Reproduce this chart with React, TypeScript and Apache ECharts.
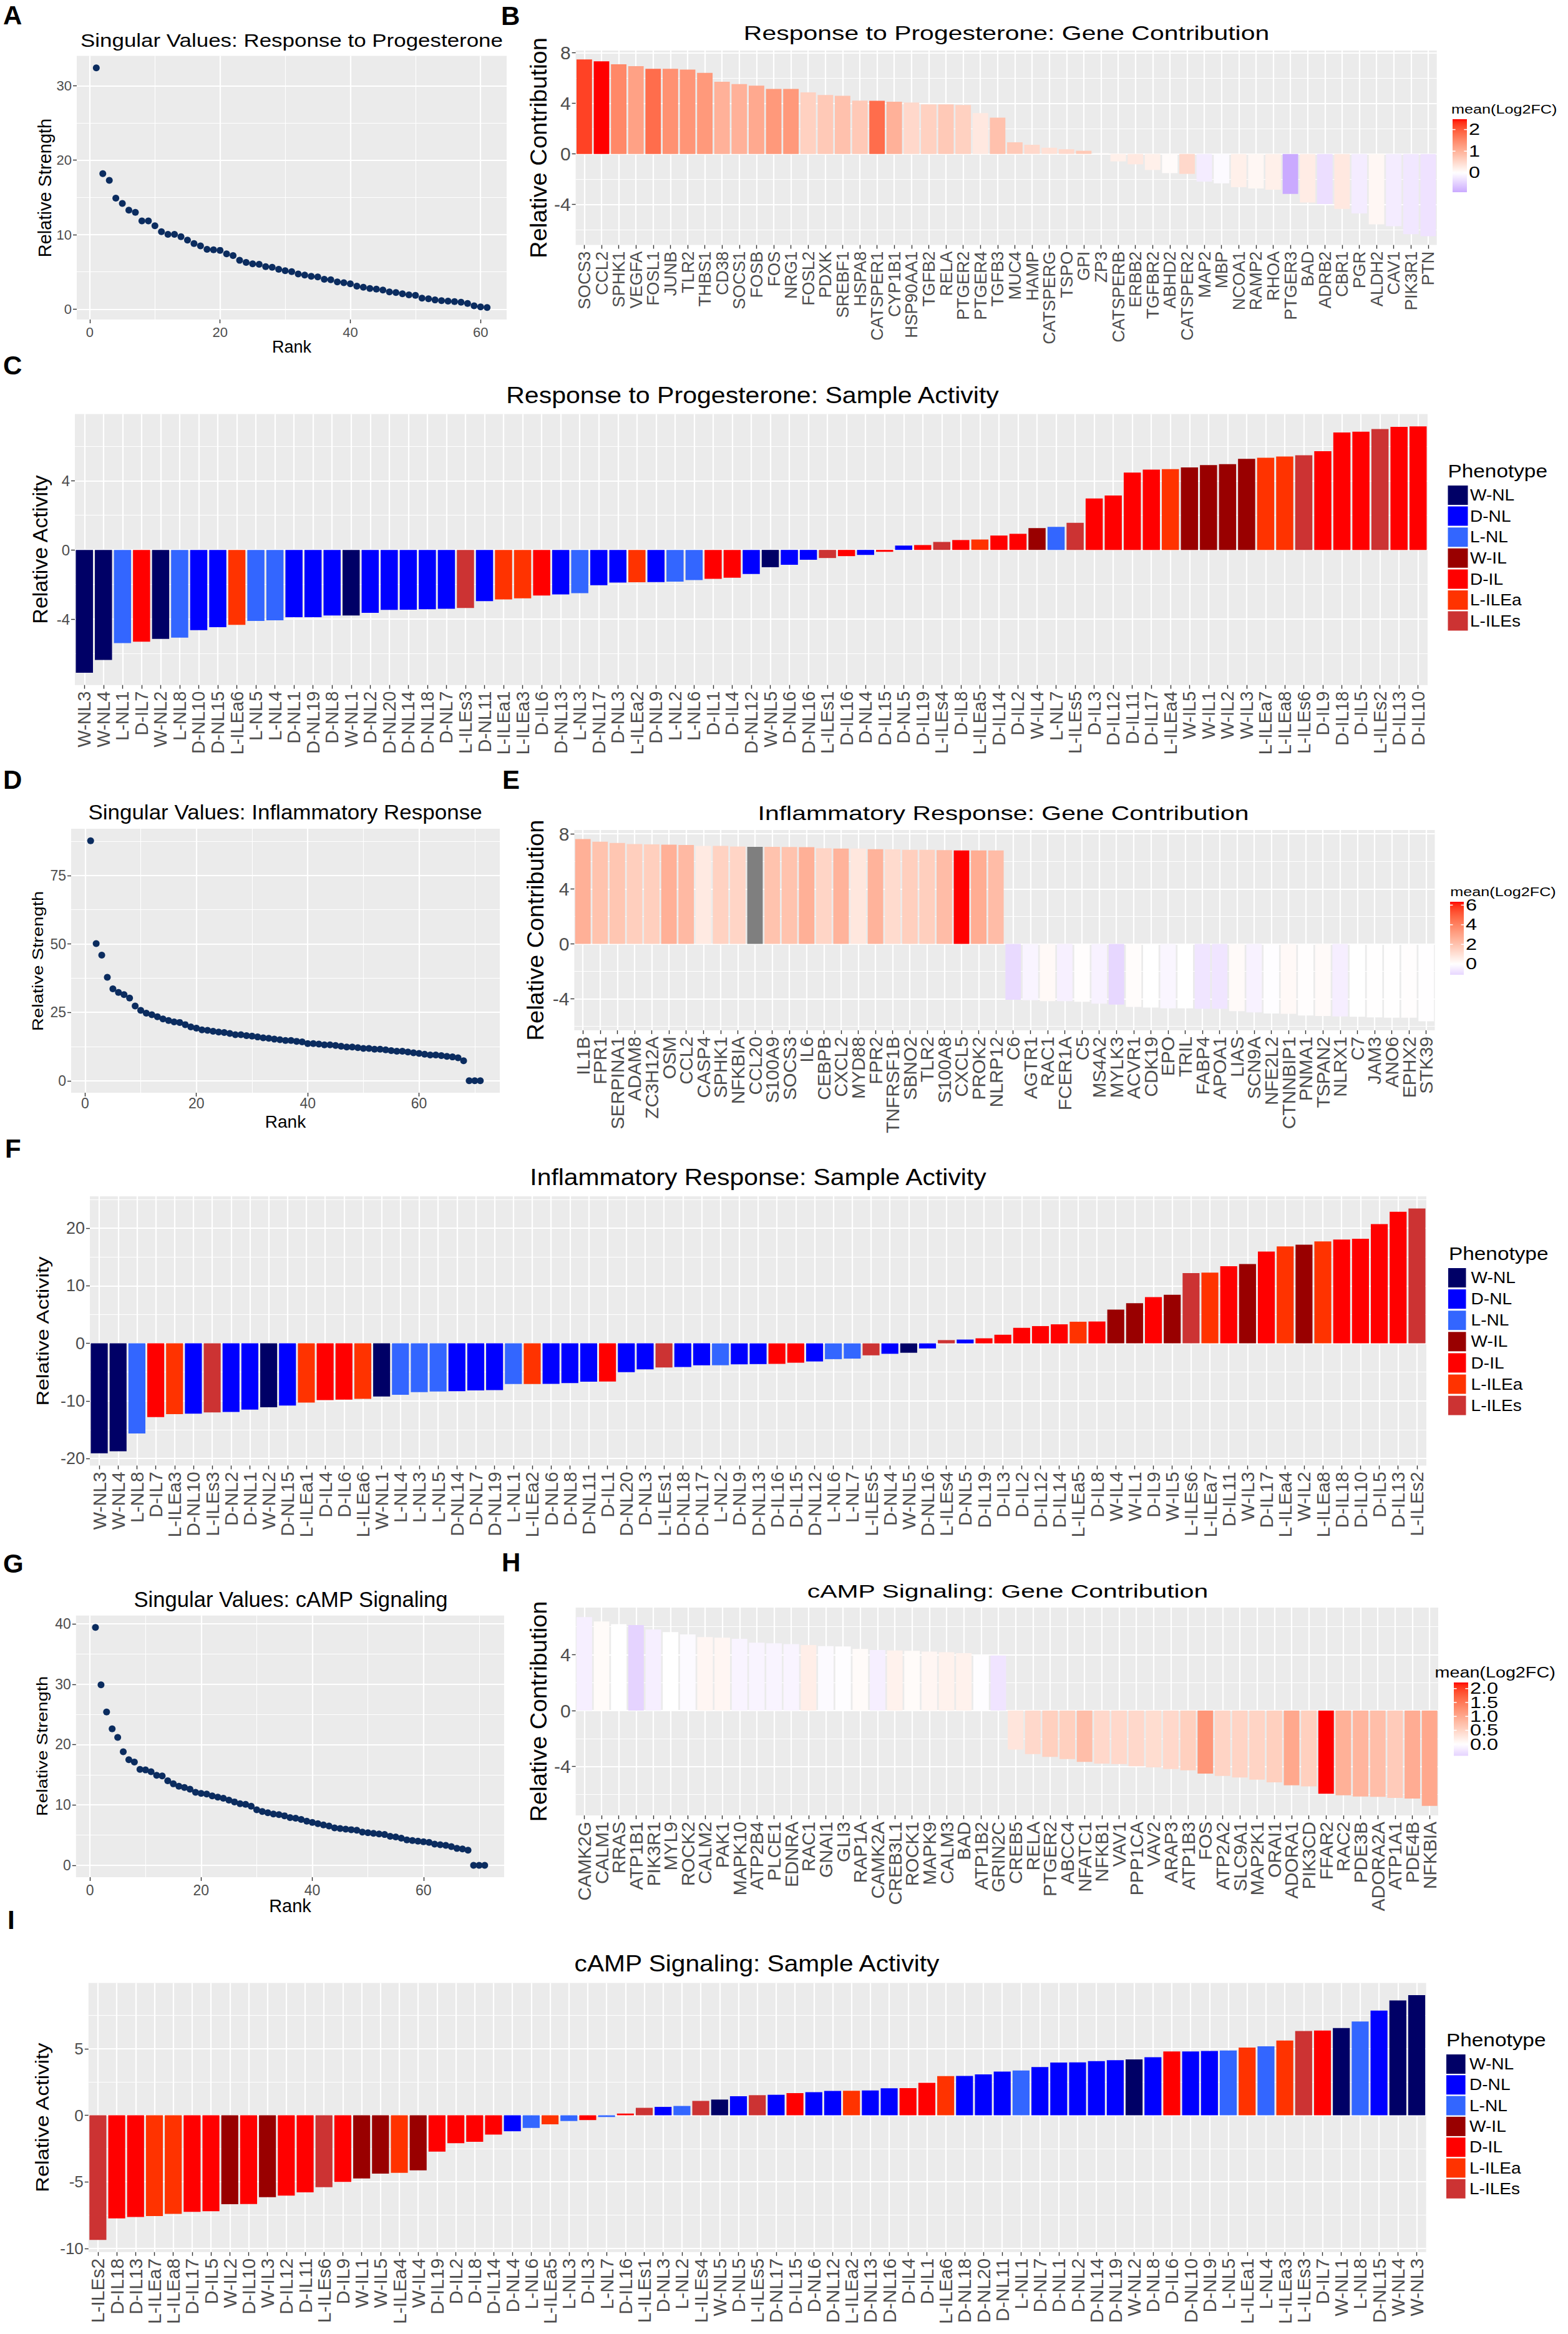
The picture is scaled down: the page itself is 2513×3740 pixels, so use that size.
import React, { useEffect, useRef } from "react";
import * as echarts from "echarts";

const FONT = '"Liberation Sans", Arial, Helvetica, sans-serif';

// ---------------- data ----------------
const SV_PROGESTERONE = [32.4, 18.2, 17.3, 14.9, 14.2, 13.3, 13.0, 11.85, 11.85, 11.2, 10.4, 10.05, 10.05, 9.74, 9.28, 8.82, 8.5, 8.04, 7.98, 7.9, 7.42, 7.2, 6.56, 6.28, 6.09, 6.03, 5.72, 5.63, 5.35, 5.17, 5.04, 4.73, 4.58, 4.42, 4.33, 4.02, 3.96, 3.65, 3.56, 3.4, 3.09, 2.94, 2.78, 2.69, 2.57, 2.32, 2.23, 2.07, 1.92, 1.86, 1.48, 1.39, 1.24, 1.14, 1.08, 1.02, 0.93, 0.77, 0.46, 0.31, 0.22];
const SV_INFLAMMATORY = [87.7, 50.1, 45.9, 37.8, 33.6, 32.3, 31.5, 30.2, 27.3, 25.7, 24.7, 24.1, 23.4, 22.6, 22.0, 21.5, 21.3, 20.5, 19.7, 19.2, 18.6, 18.4, 18.1, 17.8, 17.6, 17.3, 16.8, 16.8, 16.5, 16.3, 16.0, 15.7, 15.5, 15.2, 15.0, 14.7, 14.7, 14.4, 14.2, 13.6, 13.6, 13.4, 13.1, 13.1, 12.9, 12.6, 12.3, 12.3, 12.1, 11.8, 11.8, 11.5, 11.5, 11.3, 11.0, 10.8, 10.8, 10.5, 10.2, 10.0, 9.7, 9.4, 9.4, 9.2, 8.9, 8.7, 8.4, 7.3, 0, 0, 0];
const SV_CAMP = [39.4, 29.9, 25.4, 22.6, 21.2, 18.8, 17.5, 17.1, 15.9, 15.8, 15.5, 14.9, 14.8, 14.0, 13.5, 13.1, 12.9, 12.6, 12.1, 11.9, 11.8, 11.5, 11.3, 11.1, 10.8, 10.5, 10.2, 10.1, 9.8, 9.2, 8.9, 8.7, 8.5, 8.4, 8.2, 7.9, 7.8, 7.6, 7.3, 7.1, 6.9, 6.7, 6.5, 6.2, 6.1, 6.0, 5.9, 5.8, 5.5, 5.4, 5.3, 5.2, 5.1, 4.8, 4.7, 4.5, 4.2, 4.1, 4.0, 3.9, 3.8, 3.5, 3.4, 3.3, 3.1, 2.8, 2.7, 2.5, 0, 0, 0];

const GENES_PROG = ["SOCS3", "CCL2", "SPHK1", "VEGFA", "FOSL1", "JUNB", "TLR2", "THBS1", "CD38", "SOCS1", "FOSB", "FOS", "NRG1", "FOSL2", "PDXK", "SREBF1", "HSPA8", "CATSPER1", "CYP1B1", "HSP90AA1", "TGFB2", "RELA", "PTGER2", "PTGER4", "TGFB3", "MUC4", "HAMP", "CATSPERG", "TSPO", "GPI", "ZP3", "CATSPERB", "ERBB2", "TGFBR2", "ABHD2", "CATSPER2", "MAP2", "MBP", "NCOA1", "RAMP2", "RHOA", "PTGER3", "BAD", "ADRB2", "CBR1", "PGR", "ALDH2", "CAV1", "PIK3R1", "PTN"];
const CONTRIB_PROG = [7.47, 7.32, 7.08, 6.93, 6.73, 6.73, 6.67, 6.4, 5.7, 5.52, 5.39, 5.13, 5.13, 4.86, 4.66, 4.59, 4.21, 4.2, 4.12, 4.06, 3.92, 3.92, 3.86, 3.22, 2.87, 0.92, 0.72, 0.49, 0.37, 0.25, 0.06, -0.59, -0.82, -1.27, -1.52, -1.58, -2.19, -2.32, -2.63, -2.73, -2.83, -3.16, -3.84, -3.96, -4.35, -4.7, -5.56, -5.72, -6.34, -6.5];
const FC_PROG = [2.2, 2.48, 1.5, 1.2, 1.8, 1.4, 1.35, 1.3, 1.0, 1.0, 1.1, 1.3, 1.3, 0.6, 0.7, 0.8, 0.7, 1.8, 1.0, 0.5, 0.6, 0.7, 0.6, 0.3, 0.8, 0.7, 0.5, 0.4, 0.5, 0.7, 0.05, 0.2, 0.3, 0.2, 0.05, 0.5, -0.2, -0.05, 0.2, 0.1, 0.2, -0.9, 0.25, -0.35, 0.3, -0.2, 0.1, -0.2, -0.25, -0.3];

const GENES_INFL = ["IL1B", "FPR1", "SERPINA1", "ADAM8", "ZC3H12A", "OSM", "CCL2", "CASP4", "SPHK1", "NFKBIA", "CCL20", "S100A9", "SOCS3", "IL6", "CEBPB", "CXCL2", "MYD88", "FPR2", "TNFRSF1B", "SBNO2", "TLR2", "S100A8", "CXCL5", "PROK2", "NLRP12", "C6", "AGTR1", "RAC1", "FCER1A", "C5", "MS4A2", "MYLK3", "ACVR1", "CDK19", "EPO", "TRIL", "FABP4", "APOA1", "LIAS", "SCN9A", "NFE2L2", "CTNNBIP1", "PNMA1", "TSPAN2", "NLRX1", "C7", "JAM3", "ANO6", "EPHX2", "STK39"];
const CONTRIB_INFL = [7.62, 7.43, 7.34, 7.26, 7.24, 7.22, 7.19, 7.13, 7.12, 7.08, 7.06, 7.06, 7.05, 7.03, 6.96, 6.93, 6.93, 6.89, 6.87, 6.84, 6.84, 6.82, 6.8, 6.79, 6.79, -4.07, -4.1, -4.17, -4.17, -4.22, -4.35, -4.42, -4.59, -4.64, -4.69, -4.69, -4.73, -4.73, -4.9, -4.99, -5.07, -5.09, -5.21, -5.25, -5.28, -5.3, -5.35, -5.37, -5.37, -5.63];
const FC_INFL: (number | null)[] = [2.6, 2.0, 1.9, 1.6, 1.6, 2.6, 2.3, 0.7, 1.5, 1.4, null, 2.0, 2.0, 2.6, 1.4, 2.5, 0.8, 2.5, 1.2, 1.6, 1.6, 2.2, 6.34, 2.7, 2.2, -1.0, -0.3, 0.2, -0.4, 0.05, -0.35, -1.09, 0.1, 0, -0.25, 0, -0.7, -0.7, 0.15, -0.35, -0.05, 0.2, 0.05, 0.15, -0.45, 0, 0.02, 0.02, 0.05, -0.02];

const GENES_CAMP = ["CAMK2G", "CALM1", "RRAS", "ATP1B1", "PIK3R1", "MYL9", "ROCK2", "CALM2", "PAK1", "MAPK10", "ATP2B4", "PLCE1", "EDNRA", "RAC1", "GNAI1", "GLI3", "RAP1A", "CAMK2A", "CREB3L1", "ROCK1", "MAPK9", "CALM3", "BAD", "ATP1B2", "GRIN2C", "CREB5", "RELA", "PTGER2", "ABCC4", "NFATC1", "NFKB1", "VAV1", "PPP1CA", "VAV2", "ARAP3", "ATP1B3", "FOS", "ATP2A2", "SLC9A1", "MAP2K1", "ORAI1", "ADORA1", "PIK3CD", "FFAR2", "RAC2", "PDE3B", "ADORA2A", "ATP1A1", "PDE4B", "NFKBIA"];
const CONTRIB_CAMP = [6.69, 6.37, 6.18, 6.12, 5.8, 5.61, 5.45, 5.26, 5.21, 5.13, 4.86, 4.81, 4.75, 4.69, 4.61, 4.59, 4.41, 4.33, 4.3, 4.27, 4.22, 4.18, 4.11, 3.98, 3.94, -2.79, -3.11, -3.31, -3.47, -3.67, -3.79, -3.82, -3.98, -4.06, -4.18, -4.27, -4.51, -4.67, -4.78, -4.94, -5.13, -5.34, -5.42, -5.94, -6.06, -6.14, -6.17, -6.25, -6.29, -6.82];
const FC_CAMP = [-0.15, 0.05, 0, -0.42, -0.15, 0, -0.05, 0.1, 0.1, -0.1, -0.1, -0.1, -0.1, 0.2, -0.05, -0.02, 0.05, -0.15, 0.15, 0.05, 0.1, 0.15, 0.15, -0.02, -0.25, 0.3, 0.45, 0.55, 0.55, 0.75, 0.45, 0.45, 0.45, 0.4, 0.45, 0.55, 1.2, 0.5, 0.5, 0.5, 0.55, 1.0, 0.55, 2.22, 0.9, 0.85, 0.75, 0.6, 0.95, 1.0];

const SAMPLES_PROG = ["W-NL3", "W-NL4", "L-NL1", "D-IL7", "W-NL2", "L-NL8", "D-NL10", "D-NL15", "L-ILEa6", "L-NL5", "L-NL4", "D-NL1", "D-NL19", "D-NL8", "W-NL1", "D-NL2", "D-NL20", "D-NL14", "D-NL18", "D-NL7", "L-ILEs3", "D-NL11", "L-ILEa1", "L-ILEa3", "D-IL6", "D-NL13", "L-NL3", "D-NL17", "D-NL3", "L-ILEa2", "D-NL9", "L-NL2", "L-NL6", "D-IL1", "D-IL4", "D-NL12", "W-NL5", "D-NL6", "D-NL16", "L-ILEs1", "D-IL16", "D-NL4", "D-IL15", "D-NL5", "D-IL19", "L-ILEs4", "D-IL8", "L-ILEa5", "D-IL14", "D-IL2", "W-IL4", "L-NL7", "L-ILEs5", "D-IL3", "D-IL12", "D-IL11", "D-IL17", "L-ILEa4", "W-IL5", "W-IL1", "W-IL2", "W-IL3", "L-ILEa7", "L-ILEa8", "L-ILEs6", "D-IL9", "D-IL18", "D-IL5", "L-ILEs2", "D-IL13", "D-IL10"];
const ACTIVITY_PROG = [-7.1, -6.36, -5.39, -5.31, -5.14, -5.07, -4.64, -4.47, -4.33, -4.11, -4.07, -3.89, -3.89, -3.79, -3.79, -3.64, -3.47, -3.46, -3.43, -3.4, -3.36, -2.96, -2.86, -2.8, -2.64, -2.57, -2.5, -2.04, -1.89, -1.87, -1.86, -1.83, -1.74, -1.67, -1.61, -1.39, -1.0, -0.86, -0.57, -0.47, -0.36, -0.29, -0.11, 0.25, 0.28, 0.46, 0.57, 0.6, 0.83, 0.93, 1.26, 1.33, 1.57, 2.97, 3.14, 4.47, 4.64, 4.67, 4.77, 4.9, 4.96, 5.26, 5.33, 5.4, 5.47, 5.71, 6.79, 6.83, 6.99, 7.11, 7.14];

const SAMPLES_INFL = ["W-NL3", "W-NL4", "L-NL8", "D-IL7", "L-ILEa3", "D-NL10", "L-ILEs3", "D-NL2", "D-NL1", "W-NL2", "D-NL15", "L-ILEa1", "D-IL4", "D-IL6", "L-ILEa6", "W-NL1", "L-NL4", "L-NL3", "L-NL5", "D-NL14", "D-NL7", "D-NL19", "L-NL1", "L-ILEa2", "D-NL6", "D-NL8", "D-NL11", "D-IL1", "D-NL20", "D-NL3", "L-ILEs1", "D-NL18", "D-NL17", "L-NL2", "D-NL9", "D-NL13", "D-IL16", "D-IL15", "D-NL12", "L-NL6", "L-NL7", "L-ILEs5", "D-NL4", "W-NL5", "D-NL16", "L-ILEs4", "D-NL5", "D-IL19", "D-IL3", "D-IL2", "D-IL12", "D-IL14", "L-ILEa5", "D-IL8", "W-IL4", "W-IL1", "D-IL9", "W-IL5", "L-ILEs6", "L-ILEa7", "D-IL11", "W-IL3", "D-IL17", "L-ILEa4", "W-IL2", "L-ILEa8", "D-IL18", "D-IL10", "D-IL5", "D-IL13", "L-ILEs2"];
const ACTIVITY_INFL = [-19.1, -18.74, -15.65, -12.8, -12.3, -12.2, -12.0, -11.9, -11.5, -11.1, -10.8, -10.3, -9.85, -9.77, -9.63, -9.24, -8.93, -8.48, -8.35, -8.3, -8.17, -8.13, -7.07, -7.05, -7.03, -6.89, -6.65, -6.63, -4.99, -4.5, -4.2, -4.1, -3.82, -3.8, -3.64, -3.6, -3.56, -3.36, -3.14, -2.74, -2.65, -2.08, -1.81, -1.63, -0.88, 0.57, 0.66, 0.88, 1.5, 2.7, 3.0, 3.31, 3.76, 3.8, 5.88, 6.98, 8.04, 8.44, 12.2, 12.28, 13.39, 13.79, 15.95, 16.84, 17.15, 17.72, 18.03, 18.16, 20.72, 22.85, 23.42];

const SAMPLES_CAMP = ["L-ILEs2", "D-IL18", "D-IL13", "L-ILEa7", "L-ILEa8", "D-IL17", "D-IL5", "W-IL2", "D-IL10", "W-IL3", "D-IL12", "D-IL11", "L-ILEs6", "D-IL9", "W-IL1", "W-IL5", "L-ILEa4", "W-IL4", "D-IL19", "D-IL2", "D-IL8", "D-IL14", "D-NL4", "L-NL6", "L-ILEa5", "L-NL3", "D-IL3", "L-NL7", "D-IL16", "L-ILEs1", "D-NL3", "L-NL2", "L-ILEs4", "W-NL5", "D-NL5", "L-ILEs5", "D-NL17", "D-IL15", "D-NL6", "D-NL12", "L-ILEa2", "D-NL13", "D-NL16", "D-IL4", "D-IL1", "L-ILEa6", "D-NL18", "D-NL20", "D-NL11", "L-NL1", "D-NL7", "D-NL1", "D-NL2", "D-NL14", "D-NL19", "W-NL2", "D-NL8", "D-IL6", "D-NL10", "D-NL9", "L-NL5", "L-ILEa1", "L-NL4", "L-ILEa3", "L-ILEs3", "D-IL7", "W-NL1", "L-NL8", "D-NL15", "W-NL4", "W-NL3"];
const ACTIVITY_CAMP = [-9.36, -7.75, -7.64, -7.57, -7.41, -7.25, -7.21, -6.68, -6.67, -6.15, -6.04, -5.79, -5.4, -5.0, -4.75, -4.38, -4.32, -4.13, -2.73, -2.1, -1.99, -1.45, -1.2, -0.95, -0.68, -0.43, -0.36, -0.13, 0.13, 0.56, 0.63, 0.7, 1.08, 1.18, 1.43, 1.51, 1.54, 1.67, 1.74, 1.83, 1.84, 1.87, 2.03, 2.04, 2.44, 2.94, 2.96, 3.07, 3.28, 3.37, 3.62, 3.96, 3.97, 4.07, 4.14, 4.2, 4.36, 4.79, 4.8, 4.83, 4.86, 5.09, 5.18, 5.61, 6.33, 6.37, 6.55, 7.05, 7.87, 8.63, 9.02];

const PHENOTYPES = ["W-NL", "D-NL", "L-NL", "W-IL", "D-IL", "L-ILEa", "L-ILEs"];
const PHENOTYPE_COLORS = ["#000066", "#0000FF", "#3366FF", "#990000", "#FF0000", "#FF3300", "#CC3333"];

// tick values
const RANK_TICKS = [0, 20, 40, 60];
const RANK_MINOR = [10, 30, 50, 70];
const SV_PROG_TICKS = [0, 10, 20, 30];
const SV_PROG_MINOR = [5, 15, 25];
const SV_INFL_TICKS = [0, 25, 50, 75];
const SV_INFL_MINOR = [12.5, 37.5, 62.5, 87.5];
const SV_CAMP_TICKS = [0, 10, 20, 30, 40];
const SV_CAMP_MINOR = [5, 15, 25, 35];
const CONTRIB_TICKS = [-4, 0, 4, 8];
const CONTRIB_MINOR = [-6, -2, 2, 6];
const ACT_PROG_TICKS = [-4, 0, 4];
const ACT_PROG_MINOR = [-6, -2, 2, 6];
const ACT_INFL_TICKS = [-20, -10, 0, 10, 20];
const ACT_INFL_MINOR = [-15, -5, 5, 15, 25];
const ACT_CAMP_TICKS = [-10, -5, 0, 5];
const ACT_CAMP_MINOR = [-7.5, -2.5, 2.5, 7.5];
const FC_PROG_TICKS = [0, 1, 2];
const FC_PROG_LABELS = ["0", "1", "2"];
const FC_INFL_TICKS = [0, 2, 4, 6];
const FC_INFL_LABELS = ["0", "2", "4", "6"];
const FC_CAMP_TICKS = [0, 0.5, 1, 1.5, 2];
const FC_CAMP_LABELS = ["0.0", "0.5", "1.0", "1.5", "2.0"];

// ---------------- colour helpers (Lab interpolation like ggplot) ----------------
const toLin = (c: number) => { const s = c / 255; return s <= 0.04045 ? s / 12.92 : Math.pow((s + 0.055) / 1.055, 2.4); };
const toSrgb = (v: number) => { const c = Math.min(1, Math.max(0, v)); const s = c <= 0.0031308 ? 12.92 * c : 1.055 * Math.pow(c, 1 / 2.4) - 0.055; return Math.round(s * 255); };
const rgbToLab = (rgb: number[]) => {
  const [r, g, b] = rgb.map(toLin);
  const x = (0.4124564 * r + 0.3575761 * g + 0.1804375 * b) / 0.95047;
  const y = 0.2126729 * r + 0.7151522 * g + 0.072175 * b;
  const z = (0.0193339 * r + 0.119192 * g + 0.9503041 * b) / 1.08883;
  const f = (t: number) => (t > 216 / 24389 ? Math.cbrt(t) : ((24389 / 27) * t + 16) / 116);
  const fx = f(x), fy = f(y), fz = f(z);
  return [116 * fy - 16, 500 * (fx - fy), 200 * (fy - fz)];
};
const labToRgbStr = (lab: number[]) => {
  const [L, a, bb] = lab;
  const fy = (L + 16) / 116, fx = fy + a / 500, fz = fy - bb / 200;
  const inv = (t: number) => { const t3 = t * t * t; return t3 > 216 / 24389 ? t3 : (116 * t - 16) / (24389 / 27); };
  const x = inv(fx) * 0.95047, y = inv(fy), z = inv(fz) * 1.08883;
  const r = 3.2404542 * x - 1.5371385 * y - 0.4985314 * z;
  const g = -0.969266 * x + 1.8760108 * y + 0.041556 * z;
  const b = 0.0556434 * x - 0.2040259 * y + 1.0572252 * z;
  return "rgb(" + toSrgb(r) + "," + toSrgb(g) + "," + toSrgb(b) + ")";
};
const LAB_LOW = rgbToLab([0, 0, 255]);
const LAB_MID = rgbToLab([255, 255, 255]);
const LAB_HIGH = rgbToLab([255, 0, 0]);
const grad2 = (t: number) => {
  const tt = Math.max(-1, Math.min(1, t));
  const end = tt >= 0 ? LAB_HIGH : LAB_LOW;
  const k = Math.abs(tt);
  return labToRgbStr(LAB_MID.map((m, i) => m + (end[i] - m) * k));
};
const fcStats = (fc: (number | null)[]) => {
  const v = fc.filter((x) => x !== null) as number[];
  const lo = Math.min(...v), hi = Math.max(...v);
  return { lo, hi, m: Math.max(Math.abs(lo), Math.abs(hi)) };
};
const fcColors = (fc: (number | null)[]) => {
  const { m } = fcStats(fc);
  return fc.map((v) => (v === null ? "#7F7F7F" : grad2(v / m)));
};
const phenoColor = (s: string) => PHENOTYPE_COLORS[PHENOTYPES.indexOf(s.replace(/\d+$/, ""))];
const expand = (lo: number, hi: number) => { const r = hi - lo; return [lo - 0.05 * r, hi + 0.05 * r]; };

// ---------------- option builder ----------------
function buildOption() {
  const grid: any[] = [], xAxis: any[] = [], yAxis: any[] = [], series: any[] = [], els: any[] = [];

  const addGrid = (b: number[]) => {
    grid.push({ left: b[0], top: b[1], width: b[2] - b[0], height: b[3] - b[1], show: true, backgroundColor: "#EBEBEB", borderWidth: 0, containLabel: false, outerBoundsMode: "none" });
    return grid.length - 1;
  };
  const tick = { show: true, length: 6, lineStyle: { color: "#333333", width: 1.4 } };

  const addValueAxes = (list: any[], gi: number, pos: string, range: number[], majors: number[], minors: number[], fs: number, margin: number) => {
    const idx = list.length;
    list.push({
      type: "value", gridIndex: gi, position: pos, min: range[0], max: range[1],
      axisLine: { show: false, onZero: false },
      axisTick: { ...tick, customValues: majors },
      axisLabel: { show: true, customValues: majors, color: "#4D4D4D", fontSize: fs, fontFamily: FONT, margin, hideOverlap: false },
      splitLine: { show: true, lineStyle: { color: "#FFFFFF", width: 2.2 } },
    });
    list.push({
      type: "value", gridIndex: gi, position: pos === "left" ? "right" : "top", min: range[0], max: range[1],
      axisLine: { show: false, onZero: false },
      axisTick: { show: false, customValues: minors },
      axisLabel: { show: false },
      splitLine: { show: true, lineStyle: { color: "#FFFFFF", width: 1.1 } },
    });
    return idx;
  };

  const scatterPanel = (box: number[], values: number[], yT: number[], yM: number[], fs: number, xMargin: number) => {
    const gi = addGrid(box);
    const xi = addValueAxes(xAxis, gi, "bottom", expand(1, values.length), RANK_TICKS, RANK_MINOR, fs, xMargin);
    const yi = addValueAxes(yAxis, gi, "left", expand(Math.min(...values), Math.max(...values)), yT, yM, fs, 8);
    series.push({ type: "scatter", xAxisIndex: xi, yAxisIndex: yi, silent: true, symbolSize: 11, itemStyle: { color: "#0B2C5F", opacity: 1 }, data: values.map((v, i) => [i + 1, v]) });
  };

  const barPanel = (box: number[], cats: string[], values: number[], colors: string[], yT: number[], yM: number[], yfs: number, xfs: number) => {
    const gi = addGrid(box);
    xAxis.push({
      type: "category", gridIndex: gi, position: "bottom", data: cats, boundaryGap: true,
      axisLine: { show: false, onZero: false },
      axisTick: { ...tick, alignWithLabel: true, interval: 0 },
      axisLabel: { interval: 0, rotate: 90, color: "#4D4D4D", fontSize: xfs, fontFamily: FONT, margin: 10, hideOverlap: false },
      splitLine: { show: true, interval: 0, alignWithLabel: true, lineStyle: { color: "#FFFFFF", width: 2.2 } },
    });
    const xi = xAxis.length - 1;
    const yi = addValueAxes(yAxis, gi, "left", expand(Math.min(0, ...values), Math.max(0, ...values)), yT, yM, yfs, 8);
    series.push({ type: "bar", xAxisIndex: xi, yAxisIndex: yi, silent: true, barCategoryGap: "10%", data: values.map((v, i) => ({ value: v, itemStyle: { color: colors[i] } })) });
  };

  const text = (x: number, y: number, str: string, o: any) => {
    const align = o.align || "left", va = o.va || "middle";
    els.push({
      type: "text", x, y, rotation: o.rot || 0, scaleX: o.sx || 1, silent: true, z: 10,
      style: { text: str, fontSize: o.size, fontFamily: FONT, fontWeight: o.weight || "normal", fill: o.color || "#000000", align, verticalAlign: va, textAlign: align, textVerticalAlign: va },
    });
  };

  const phenoLegend = (tx: number, ty: number, kx: number, ky: number, kw: number, kh: number, pitch: number, lx: number) => {
    text(tx, ty, "Phenotype", { size: 29, sx: 1.15 });
    PHENOTYPES.forEach((p, i) => {
      els.push({ type: "rect", silent: true, z: 10, shape: { x: kx, y: ky + i * pitch, width: kw, height: kh }, style: { fill: PHENOTYPE_COLORS[i] } });
      text(lx, ky + i * pitch + kh / 2, p, { size: 26, sx: 1.08 });
    });
  };

  const colorbar = (fc: (number | null)[], ticks: number[], labels: string[], tx: number, ty: number, tfs: number, tsx: number, bx: number, by: number, bw: number, bh: number) => {
    const { lo, hi, m } = fcStats(fc);
    const stops: any[] = [];
    const n = 40;
    for (let k = 0; k <= n; k++) { const v = hi - ((hi - lo) * k) / n; stops.push({ offset: k / n, color: grad2(v / m) }); }
    els.push({ type: "rect", silent: true, z: 10, shape: { x: bx, y: by, width: bw, height: bh }, style: { fill: { type: "linear", x: 0, y: 0, x2: 0, y2: 1, colorStops: stops } } });
    ticks.forEach((t, i) => {
      const y = by + ((hi - t) / (hi - lo)) * bh;
      els.push({ type: "line", silent: true, z: 11, shape: { x1: bx, y1: y, x2: bx + bw * 0.2, y2: y }, style: { stroke: "#FFFFFF", lineWidth: 1.5 } });
      els.push({ type: "line", silent: true, z: 11, shape: { x1: bx + bw * 0.8, y1: y, x2: bx + bw, y2: y }, style: { stroke: "#FFFFFF", lineWidth: 1.5 } });
      text(bx + bw + 3, y, labels[i], { size: 25, sx: 1.3 });
    });
    text(tx, ty, "mean(Log2FC)", { size: tfs, sx: tsx });
  };

  // ---- panels ----
  scatterPanel([123, 89.5, 812, 512], SV_PROGESTERONE, SV_PROG_TICKS, SV_PROG_MINOR, 22, 9);
  barPanel([922.6, 81, 2302.7, 392.6], GENES_PROG, CONTRIB_PROG, fcColors(FC_PROG), CONTRIB_TICKS, CONTRIB_MINOR, 30, 27.5);
  barPanel([120, 663.5, 2288, 1097.7], SAMPLES_PROG, ACTIVITY_PROG, SAMPLES_PROG.map(phenoColor), ACT_PROG_TICKS, ACT_PROG_MINOR, 24, 29);
  scatterPanel([114, 1328, 801, 1751], SV_INFLAMMATORY, SV_INFL_TICKS, SV_INFL_MINOR, 23, 5);
  barPanel([920.4, 1330, 2299.5, 1651], GENES_INFL, CONTRIB_INFL, fcColors(FC_INFL), CONTRIB_TICKS, CONTRIB_MINOR, 30, 30);
  barPanel([144, 1917, 2286, 2348.4], SAMPLES_INFL, ACTIVITY_INFL, SAMPLES_INFL.map(phenoColor), ACT_INFL_TICKS, ACT_INFL_MINOR, 27, 30);
  scatterPanel([121.8, 2588.8, 808, 3008], SV_CAMP, SV_CAMP_TICKS, SV_CAMP_MINOR, 23, 9);
  barPanel([922.6, 2576, 2305, 2909], GENES_CAMP, CONTRIB_CAMP, fcColors(FC_CAMP), CONTRIB_TICKS, CONTRIB_MINOR, 30, 30);
  barPanel([141.8, 3177.5, 2285.6, 3608.8], SAMPLES_CAMP, ACTIVITY_CAMP, SAMPLES_CAMP.map(phenoColor), ACT_CAMP_TICKS, ACT_CAMP_MINOR, 26, 30);

  // ---- titles ----
  text(467.5, 64.5, "Singular Values: Response to Progesterone", { size: 30, sx: 1.165, align: "center" });
  text(1613, 53, "Response to Progesterone: Gene Contribution", { size: 32, sx: 1.28, align: "center" });
  text(1206, 633, "Response to Progesterone: Sample Activity", { size: 37, sx: 1.11, align: "center" });
  text(457, 1301, "Singular Values: Inflammatory Response", { size: 33, sx: 1.06, align: "center" });
  text(1608, 1303.7, "Inflammatory Response: Gene Contribution", { size: 31, sx: 1.32, align: "center" });
  text(1215, 1885.7, "Inflammatory Response: Sample Activity", { size: 37.5, sx: 1.09, align: "center" });
  text(466, 2562.5, "Singular Values: cAMP Signaling", { size: 35, sx: 0.99, align: "center" });
  text(1615, 2550, "cAMP Signaling: Gene Contribution", { size: 29, sx: 1.41, align: "center" });
  text(1213, 3146, "cAMP Signaling: Sample Activity", { size: 37, sx: 1.1, align: "center" });

  // ---- axis names ----
  const R = Math.PI / 2;
  text(71.5, 301, "Relative Strength", { size: 29, rot: R, align: "center" });
  text(61, 1540, "Relative Strength", { size: 24, sx: 1.22, rot: R, align: "center" });
  text(68, 2798, "Relative Strength", { size: 24, sx: 1.22, rot: R, align: "center" });
  text(863, 237, "Relative Contribution", { size: 36, sx: 1.06, rot: R, align: "center" });
  text(858, 1490.6, "Relative Contribution", { size: 36, sx: 1.06, rot: R, align: "center" });
  text(863, 2742.5, "Relative Contribution", { size: 36, sx: 1.06, rot: R, align: "center" });
  text(64, 880.6, "Relative Activity", { size: 34, rot: R, align: "center" });
  text(69, 2133, "Relative Activity", { size: 28, sx: 1.22, rot: R, align: "center" });
  text(68, 3393, "Relative Activity", { size: 30, sx: 1.14, rot: R, align: "center" });
  text(467.5, 556, "Rank", { size: 27, align: "center" });
  text(457.5, 1797, "Rank", { size: 28, align: "center" });
  text(465, 3054, "Rank", { size: 29, align: "center" });

  // ---- panel letters ----
  const letters: [string, number, number][] = [["A", 5, 24], ["B", 803, 25], ["C", 5, 585], ["D", 5, 1249], ["E", 805, 1249], ["F", 8, 1840], ["G", 5, 2505], ["H", 804, 2503], ["I", 12, 3076]];
  letters.forEach(([l, x, y]) => text(x, y, l, { size: 42, weight: "bold" }));

  // ---- legends ----
  colorbar(FC_PROG, FC_PROG_TICKS, FC_PROG_LABELS, 2326, 175, 21, 1.2, 2328, 191, 23, 117);
  colorbar(FC_INFL, FC_INFL_TICKS, FC_INFL_LABELS, 2324.3, 1429, 21, 1.2, 2324, 1445, 22, 117);
  colorbar(FC_CAMP, FC_CAMP_TICKS, FC_CAMP_LABELS, 2299.5, 2680.5, 23, 1.25, 2330, 2696, 23, 117.6);
  phenoLegend(2320.5, 755, 2320.5, 778, 32, 31, 33.6, 2356);
  phenoLegend(2322, 2009, 2321, 2032, 28.5, 31, 34.1, 2357.6);
  phenoLegend(2318, 3269, 2318, 3292, 30.6, 31, 33.3, 2355);

  return {
    animation: false,
    backgroundColor: "#FFFFFF",
    textStyle: { fontFamily: FONT },
    grid, xAxis, yAxis, series,
    graphic: { elements: els },
  };
}

export default function App() {
  const ref = useRef<HTMLDivElement>(null);
  useEffect(() => {
    if (!ref.current) return;
    const chart = echarts.init(ref.current, null, { renderer: "svg", width: 2513, height: 3740 });
    chart.setOption(buildOption() as any);
    return () => chart.dispose();
  }, []);
  return <div ref={ref} style={{ position: "absolute", left: 0, top: 0, width: 2513, height: 3740, background: "#FFFFFF" }} />;
}
